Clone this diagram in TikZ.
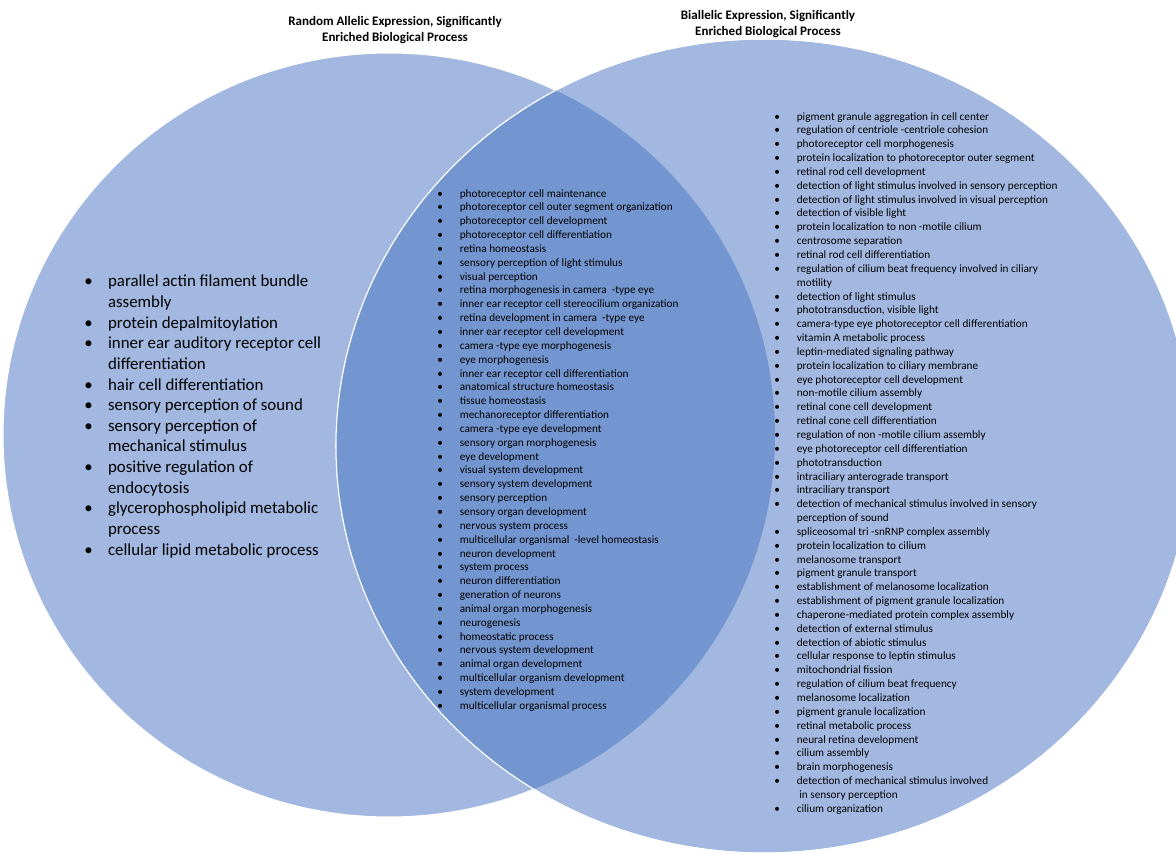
\documentclass[tikz,border=0pt]{standalone}
\usepackage{fontspec}
\setmainfont{Carlito}
\definecolor{vennlight}{RGB}{162,184,224}
\definecolor{venndark}{RGB}{116,150,208}

\begin{document}
\begin{tikzpicture}
  [x=0.02cm,y=-0.02cm,
   title/.style={align=center,inner sep=0pt,font=\bfseries\fontsize{7.4}{9.1}\selectfont},
   biglist/.style={anchor=north west,inner sep=0pt,font=\fontsize{9.6}{11.75}\selectfont},
   smalllist/.style={anchor=north west,inner sep=0pt,font=\fontsize{6.4}{7.88}\selectfont},
   rim/.style={draw=white,line width=0.6pt}]

  \useasboundingbox (0,0) rectangle (1176,852);
  \clip (0,0) rectangle (1176,852);

  % the two sets
  \fill [vennlight,rim] (389,435) ellipse [x radius=386, y radius=382];
  \fill [vennlight,rim] (764,446) ellipse [x radius=428, y radius=407];
  \begin{scope}
    \clip (389,435) ellipse [x radius=386, y radius=382];
    \fill [venndark] (764,446) ellipse [x radius=428, y radius=407];
  \end{scope}
  \draw [rim] (764,446) ellipse [x radius=428, y radius=407];

  % headings
  \node [title] (random) at (395,30) {Random Allelic Expression, Significantly\\Enriched Biological Process};
  \node [title] (biallelic) at (768,24) {Biallelic Expression, Significantly\\Enriched Biological Process};

  % random allelic only
  \node [biglist] (randomonly) at (84,272) {\begin{tabular}{@{}p{13.5pt}@{}l@{}}
    \textbullet & parallel actin filament bundle\\
                & assembly\\
    \textbullet & protein depalmitoylation\\
    \textbullet & inner ear auditory receptor cell\\
                & differentiation\\
    \textbullet & hair cell differentiation\\
    \textbullet & sensory perception of sound\\
    \textbullet & sensory perception of\\
                & mechanical stimulus\\
    \textbullet & positive regulation of\\
                & endocytosis\\
    \textbullet & glycerophospholipid metabolic\\
                & process\\
    \textbullet & cellular lipid metabolic process
  \end{tabular}};

  % shared by both
  \node [smalllist] (shared) at (437,187) {\begin{tabular}{@{}p{12.8pt}@{}l@{}}
    \textbullet & photoreceptor cell maintenance\\
    \textbullet & photoreceptor cell outer segment organization\\
    \textbullet & photoreceptor cell development\\
    \textbullet & photoreceptor cell differentiation\\
    \textbullet & retina homeostasis\\
    \textbullet & sensory perception of light stimulus\\
    \textbullet & visual perception\\
    \textbullet & retina morphogenesis in camera \ -type eye\\
    \textbullet & inner ear receptor cell stereocilium organization\\
    \textbullet & retina development in camera \ -type eye\\
    \textbullet & inner ear receptor cell development\\
    \textbullet & camera -type eye morphogenesis\\
    \textbullet & eye morphogenesis\\
    \textbullet & inner ear receptor cell differentiation\\
    \textbullet & anatomical structure homeostasis\\
    \textbullet & tissue homeostasis\\
    \textbullet & mechanoreceptor differentiation\\
    \textbullet & camera -type eye development\\
    \textbullet & sensory organ morphogenesis\\
    \textbullet & eye development\\
    \textbullet & visual system development\\
    \textbullet & sensory system development\\
    \textbullet & sensory perception\\
    \textbullet & sensory organ development\\
    \textbullet & nervous system process\\
    \textbullet & multicellular organismal \ -level homeostasis\\
    \textbullet & neuron development\\
    \textbullet & system process\\
    \textbullet & neuron differentiation\\
    \textbullet & generation of neurons\\
    \textbullet & animal organ morphogenesis\\
    \textbullet & neurogenesis\\
    \textbullet & homeostatic process\\
    \textbullet & nervous system development\\
    \textbullet & animal organ development\\
    \textbullet & multicellular organism development\\
    \textbullet & system development\\
    \textbullet & multicellular organismal process
  \end{tabular}};

  % biallelic only
  \node [smalllist] (bialleliconly) at (774,110) {\begin{tabular}{@{}p{12.8pt}@{}l@{}}
    \textbullet & pigment granule aggregation in cell center\\
    \textbullet & regulation of centriole -centriole cohesion\\
    \textbullet & photoreceptor cell morphogenesis\\
    \textbullet & protein localization to photoreceptor outer segment\\
    \textbullet & retinal rod cell development\\
    \textbullet & detection of light stimulus involved in sensory perception\\
    \textbullet & detection of light stimulus involved in visual perception\\
    \textbullet & detection of visible light\\
    \textbullet & protein localization to non -motile cilium\\
    \textbullet & centrosome separation\\
    \textbullet & retinal rod cell differentiation\\
    \textbullet & regulation of cilium beat frequency involved in ciliary\\
                & motility\\
    \textbullet & detection of light stimulus\\
    \textbullet & phototransduction, visible light\\
    \textbullet & camera-type eye photoreceptor cell differentiation\\
    \textbullet & vitamin A metabolic process\\
    \textbullet & leptin-mediated signaling pathway\\
    \textbullet & protein localization to ciliary membrane\\
    \textbullet & eye photoreceptor cell development\\
    \textbullet & non-motile cilium assembly\\
    \textbullet & retinal cone cell development\\
    \textbullet & retinal cone cell differentiation\\
    \textbullet & regulation of non -motile cilium assembly\\
    \textbullet & eye photoreceptor cell differentiation\\
    \textbullet & phototransduction\\
    \textbullet & intraciliary anterograde transport\\
    \textbullet & intraciliary transport\\
    \textbullet & detection of mechanical stimulus involved in sensory\\
                & perception of sound\\
    \textbullet & spliceosomal tri -snRNP complex assembly\\
    \textbullet & protein localization to cilium\\
    \textbullet & melanosome transport\\
    \textbullet & pigment granule transport\\
    \textbullet & establishment of melanosome localization\\
    \textbullet & establishment of pigment granule localization\\
    \textbullet & chaperone-mediated protein complex assembly\\
    \textbullet & detection of external stimulus\\
    \textbullet & detection of abiotic stimulus\\
    \textbullet & cellular response to leptin stimulus\\
    \textbullet & mitochondrial fission\\
    \textbullet & regulation of cilium beat frequency\\
    \textbullet & melanosome localization\\
    \textbullet & pigment granule localization\\
    \textbullet & retinal metabolic process\\
    \textbullet & neural retina development\\
    \textbullet & cilium assembly\\
    \textbullet & brain morphogenesis\\
    \textbullet & detection of mechanical stimulus involved\\
                & \ in sensory perception\\
    \textbullet & cilium organization
  \end{tabular}};
\end{tikzpicture}
\end{document}
